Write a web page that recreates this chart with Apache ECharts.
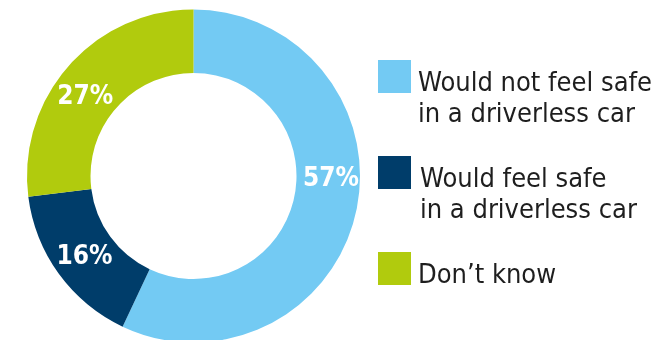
<!DOCTYPE html>
<html>
<head>
<meta charset="utf-8">
<script src="https://cdn.jsdelivr.net/npm/echarts@6/dist/echarts.min.js"></script>
<style>
html,body{margin:0;padding:0;background:#fff;}
#chart{width:658px;height:340px;}
</style>
</head>
<body>
<div id="chart"></div>
<script>
const categories = [
  'Would not feel safe\nin a driverless car',
  'Would feel safe\nin a driverless car',
  'Don\u2019t know'
];
const values = [57, 16, 27];
const colors = ['#73CAF3', '#003D6A', '#B1CB0D'];

const chart = echarts.init(document.getElementById('chart'), null, {renderer: 'canvas'});

const labelShift = [[3, -27], [2.5, 0], [-5, 12]];
const textStyleKey = ['t', 'u', 't'];

const txt = {fontFamily: 'DejaVu Sans Condensed', fontSize: 27, lineHeight: 30.5, color: '#1e1e1e'};

chart.setOption({
  animation: false,
  color: colors,
  legend: {
    orient: 'vertical',
    left: 378,
    top: 22.9,
    padding: 0,
    itemGap: -11,
    itemWidth: 33,
    itemHeight: 33,
    icon: 'rect',
    selectedMode: false,
    formatter: function (name) {
      const i = categories.indexOf(name);
      const k = textStyleKey[i];
      const lines = name.split('\n').map(l => '{' + k + '|' + l + '}');
      let s = '{a| }\n' + lines.join('\n');
      if (lines.length === 1) s += '\n{b| }';
      return s;
    },
    textStyle: {
      fontFamily: 'DejaVu Sans Condensed',
      fontSize: 27,
      lineHeight: 30.5,
      color: '#1e1e1e',
      rich: {
        a: {fontSize: 4, lineHeight: 46},
        b: {fontSize: 4, lineHeight: 30.5},
        t: Object.assign({}, txt, {padding: [0, 0, 0, 2]}),
        u: Object.assign({}, txt, {padding: [0, 0, 0, 4]})
      }
    },
    data: categories
  },
  series: [{
    type: 'pie',
    center: [193.5, 176],
    radius: [103, 166.5],
    startAngle: 90,
    clockwise: true,
    avoidLabelOverlap: false,
    itemStyle: {borderWidth: 0},
    emphasis: {disabled: true},
    label: {
      show: true,
      position: 'inside',
      formatter: '{c}%',
      color: '#ffffff',
      fontFamily: 'DejaVu Sans Condensed',
      fontWeight: 'bold',
      fontSize: 26
    },
    labelLine: {show: false},
    labelLayout: function (p) {
      return {dx: labelShift[p.dataIndex][0], dy: labelShift[p.dataIndex][1]};
    },
    data: categories.map((c, i) => ({name: c, value: values[i]}))
  }]
});
</script>
</body>
</html>
